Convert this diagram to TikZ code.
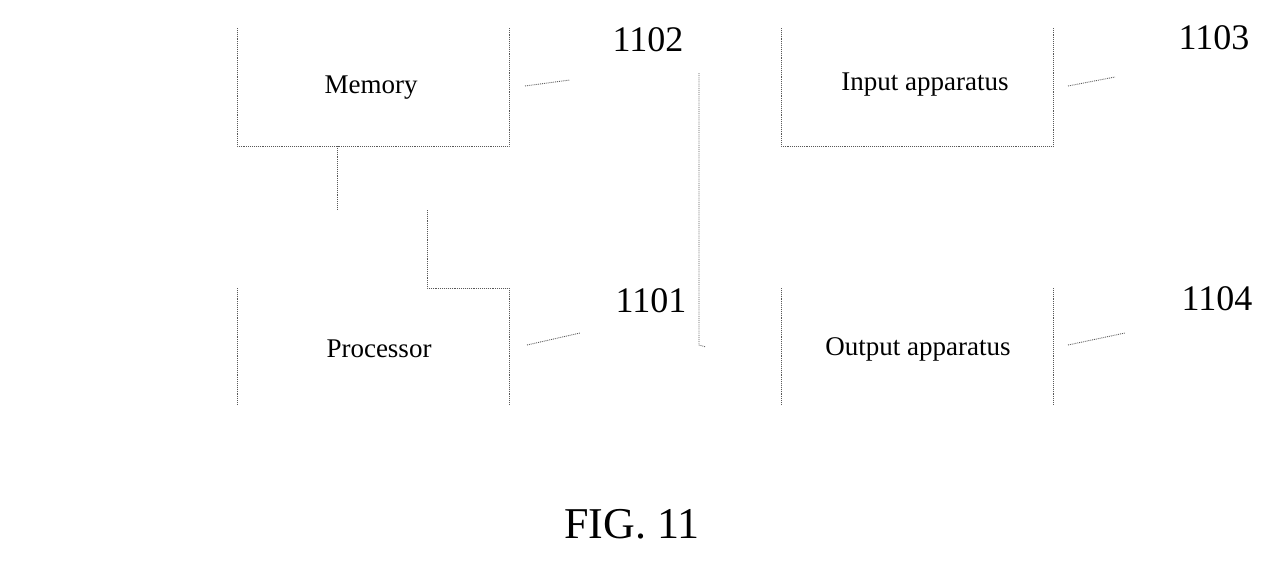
\documentclass[tikz,border=0pt]{standalone}
\usepackage{fontspec}
\setmainfont{Liberation Serif}
\begin{document}
\begin{tikzpicture}[x=1pt,y=-1pt,
  ln/.style={gray!70!black,line width=0.9pt,densely dotted},
  lbl/.style={font=\fontsize{27}{30}\selectfont,inner sep=0pt},
  num/.style={font=\fontsize{36}{40}\selectfont,inner sep=0pt}]
\useasboundingbox (0,0) rectangle (1281,563);
% boxes (open tops as in reference)
\coordinate (m1) at (237,28); \coordinate (m2) at (509,146);
\draw[ln] (237,28) -- (237,146) -- (509,146) -- (509,28);
\node[lbl] (mem) at (371,88) {Memory};
\draw[ln] (237,288) -- (237,405);
\draw[ln] (509,288) -- (509,405);
\node[lbl] (proc) at (379,349) {Processor};
\draw[ln] (781,28) -- (781,146) -- (1053,146) -- (1053,28);
\node[lbl] (in) at (925,85) {Input apparatus};
\draw[ln] (781,288) -- (781,405);
\draw[ln] (1053,288) -- (1053,405);
\node[lbl] (out) at (918,349) {Output apparatus};
% connectors
\coordinate (a) at (337,146); \coordinate (b) at (337,210);
\draw[ln] (a) -- (b);
\coordinate (c) at (427,210); \coordinate (d) at (427,288); \coordinate (e) at (509,288);
\draw[ln] (c) -- (d) -- (e);
\coordinate (bus1) at (699,73); \coordinate (bus2) at (699,345); \coordinate (bus3) at (706,347);
\draw[ln] (bus1) -- (bus2) -- (bus3);
% reference numerals
\node[num] (n1102) at (648,40) {1102};
\node[num] (n1101) at (651,301) {1101};
\node[num] (n1103) at (1214,38) {1103};
\node[num] (n1104) at (1217,299) {1104};
\draw[ln] (525,86) -- (570,80);
\draw[ln] (527,345) -- (580,333);
\draw[ln] (1068,86) -- (1115,77);
\draw[ln] (1068,345) -- (1125,333);
\node[font=\fontsize{44}{48}\selectfont,inner sep=0pt] (fig) at (632,524) {FIG. 11};
\end{tikzpicture}
\end{document}
